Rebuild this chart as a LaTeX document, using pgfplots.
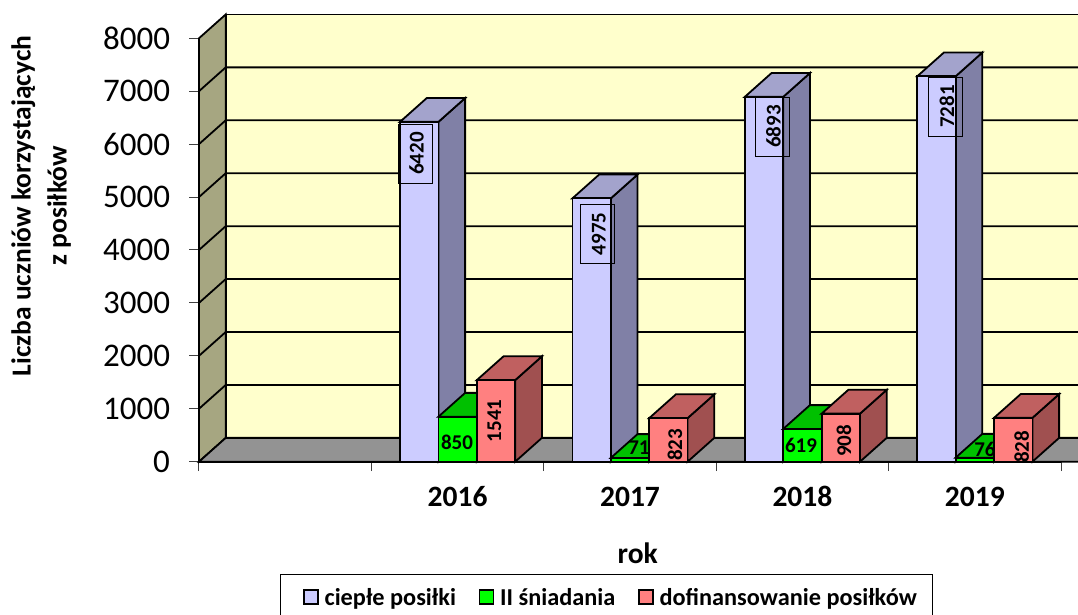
\documentclass[border=0pt]{standalone}
\usepackage{fontspec}
\setmainfont{Carlito}
\usepackage{pgfplots}
\pgfplotsset{compat=1.18}

\definecolor{wall}{HTML}{FFFFCC}
\definecolor{sidewall}{HTML}{A6A681}
\definecolor{floorc}{HTML}{939393}
\definecolor{blueF}{HTML}{CCCCFF}
\definecolor{blueT}{HTML}{A3A3CC}
\definecolor{blueS}{HTML}{8080A6}
\definecolor{greenF}{HTML}{00FF00}
\definecolor{greenT}{HTML}{00C000}
\definecolor{greenS}{HTML}{00A000}
\definecolor{redF}{HTML}{FF8080}
\definecolor{redT}{HTML}{C06060}
\definecolor{redS}{HTML}{A05050}
\definecolor{tickc}{HTML}{404040}

% depth of the 3d box, bar width (axis units)
\def\dx{0.155}
\def\dy{450}
\def\bw{0.2227}
\def\lw{1.8pt}

\newcommand{\wallline}[1]{%
  \pgfmathsetmacro\yb{#1+\dy}%
  \edef\tmp{\noexpand\addplot[black,line width=\lw,forget plot] coordinates {(0,#1) (\dx,\yb) (5.3,\yb)};}\tmp
}

% group centre, slot (0,1,2), value, colour prefix
\newcommand{\cuboid}[4]{%
  \pgfmathsetmacro\xa{#1+(#2-1.5)*\bw}%
  \pgfmathsetmacro\xb{\xa+\bw}%
  \pgfmathsetmacro\xc{\xa+\dx}%
  \pgfmathsetmacro\xd{\xb+\dx}%
  \pgfmathsetmacro\yd{#3+\dy}%
  \edef\tmp{%
    \noexpand\addplot[fill=#4S,draw=black,line width=\lw,forget plot] coordinates {(\xb,0) (\xd,\dy) (\xd,\yd) (\xb,#3)} -- cycle;
    \noexpand\addplot[fill=#4T,draw=black,line width=\lw,forget plot] coordinates {(\xa,#3) (\xc,\yd) (\xd,\yd) (\xb,#3)} -- cycle;
    \noexpand\addplot[fill=#4F,draw=black,line width=\lw,forget plot] coordinates {(\xa,0) (\xa,#3) (\xb,#3) (\xb,0)} -- cycle;
  }\tmp
}

% text sits a little to the right of the middle of its frame
\newcommand{\boxed}[1]{\raisebox{-8.6pt}[0pt][0pt]{#1}}

\tikzset{
  val/.style={font=\fontsize{21}{21}\selectfont\bfseries,inner sep=0pt},
  valbox/.style={val,rotate=90,draw=black,line width=0.6pt,minimum width=59pt,minimum height=34pt},
}

\begin{document}
\begin{tikzpicture}[x=1pt,y=1pt]
\useasboundingbox (0,0) rectangle (1078,614);
\clip (0,0) rectangle (1078,614);
\begin{axis}[
    at={(199pt,152.3pt)},
    anchor=south west,
    x=172.4pt,
    y=0.05293pt,
    xmin=0, xmax=5,
    ymin=0, ymax=8000,
    clip=false,
    axis x line=bottom,
    axis y line=left,
    axis line style={-,black,line width=\lw},
    xtick={0,1,2,3,4,5},
    x tick label as interval,
    xticklabels={,2016,2017,2018,2019},
    ytick={0,1000,2000,3000,4000,5000,6000,7000,8000},
    tick align=outside,
    major tick length=9.5pt,
    tick style={tickc,line width=1pt},
    /pgf/number format/assume math mode=true,
    /pgf/number format/1000 sep={},
    y tick label style={font=\fontsize{33}{33}\selectfont,xshift=-16pt},
    x tick label style={font=\fontsize{29.5}{30}\selectfont\bfseries,yshift=-13pt,text height=19pt,text depth=0pt},
    xlabel={rok},
    ylabel={Liczba uczniów korzystających\\z posiłków},
    x label style={at={(axis description cs:0.509,-0.2156)},anchor=center,font=\fontsize{29.5}{30}\selectfont\bfseries},
    y label style={at={(axis description cs:-0.183,0.604)},anchor=center,align=center,font=\fontsize{27.5}{36}\selectfont\bfseries},
    legend columns=3,
    legend style={
        at={(0.0934,-0.266)},
        anchor=north west,
        draw=black,
        line width=0.8pt,
        inner xsep=14pt,
        inner ysep=12pt,
        font=\fontsize{24.3}{24.3}\selectfont\bfseries,
        /tikz/every even column/.style={column sep=11.5pt},
        /tikz/every odd column/.style={column sep=4pt},
    },
    legend image code/.code={\path (-9.5pt,0pt); \draw[#1,line width=1.6pt] (0pt,-6pt) rectangle (14pt,8pt);},
]

% box walls
\addplot[fill=wall,draw=black,line width=\lw,forget plot] coordinates {(0.155,450) (0.155,8450) (5.3,8450) (5.3,450)} -- cycle;
\addplot[fill=sidewall,draw=black,line width=\lw,forget plot] coordinates {(0,0) (0.155,450) (0.155,8450) (0,8000)} -- cycle;
\addplot[fill=floorc,draw=black,line width=\lw,forget plot] coordinates {(0,0) (0.155,450) (5.3,450) (5.155,0)} -- cycle;
\wallline{1000}
\wallline{2000}
\wallline{3000}
\wallline{4000}
\wallline{5000}
\wallline{6000}
\wallline{7000}

% 2016
\cuboid{1.5}{0}{6420}{blue}
\node[valbox] at (axis cs:1.2529,5823) {\boxed{6420}};
\cuboid{1.5}{1}{850}{green}
\node[val] at (axis cs:1.4965,372) {850};
\cuboid{1.5}{2}{1541}{red}
\node[val,rotate=90] at (axis cs:1.714,769) {1541};
% 2017
\cuboid{2.5}{0}{4975}{blue}
\node[valbox] at (axis cs:2.3086,4302) {\boxed{4975}};
\cuboid{2.5}{1}{71}{green}
\node[val] at (axis cs:2.552,259) {71};
\cuboid{2.5}{2}{823}{red}
\node[val,rotate=90] at (axis cs:2.761,316) {823};
% 2018
\cuboid{3.5}{0}{6893}{blue}
\node[valbox] at (axis cs:3.3237,6333) {\boxed{6893}};
\cuboid{3.5}{1}{619}{green}
\node[val] at (axis cs:3.492,316) {619};
\cuboid{3.5}{2}{908}{red}
\node[val,rotate=90] at (axis cs:3.741,391) {908};
% 2019
\cuboid{4.5}{0}{7281}{blue}
\node[valbox] at (axis cs:4.3301,6711) {\boxed{7281}};
\cuboid{4.5}{1}{76}{green}
\node[val] at (axis cs:4.559,240) {76};
\cuboid{4.5}{2}{828}{red}
\node[val,rotate=90] at (axis cs:4.772,278) {828};

\addlegendimage{draw=black,fill=blueF}
\addlegendentry{ciepłe posiłki}
\addlegendimage{draw=black,fill=greenF}
\addlegendentry{II śniadania}
\addlegendimage{draw=black,fill=redF}
\addlegendentry{dofinansowanie posiłków}
\end{axis}
\end{tikzpicture}
\end{document}
